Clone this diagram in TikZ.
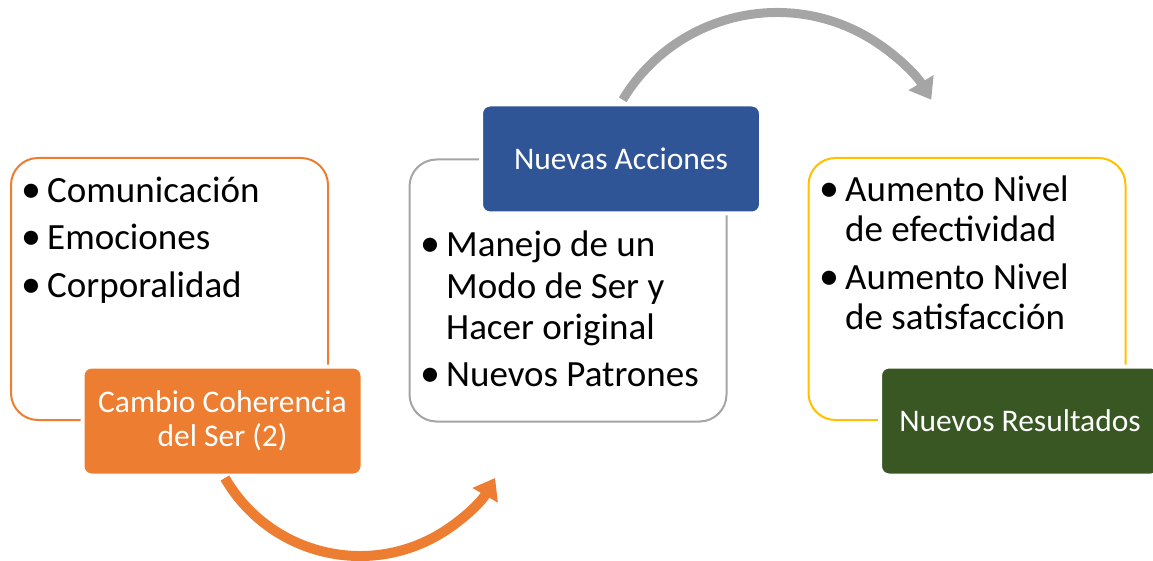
\documentclass[tikz,border=0pt]{standalone}
\usepackage{fontspec}
\setmainfont{Carlito}
\usetikzlibrary{arrows.meta}
\definecolor{corange}{HTML}{ED7D31}
\definecolor{cblue}{HTML}{2F5597}
\definecolor{cgreen}{HTML}{385723}
\definecolor{cgray}{HTML}{A5A5A5}
\definecolor{cyellow}{HTML}{FFC000}
\tikzset{
  outlinebox/.style={draw=#1, line width=2pt, fill=white, rounded corners=27pt, minimum width=317pt, minimum height=262pt, inner sep=0pt},
  labelbox/.style={fill=#1, draw=white, line width=4pt, rounded corners=9pt, minimum width=280pt, minimum height=109pt, inner sep=0pt, text=white, align=center, font=\fontsize{31.5}{34}\selectfont},
  bul/.style={anchor=base west, inner sep=0pt, font=\fontsize{40}{40}\selectfont},
  itemtext/.style={anchor=base west, inner sep=0pt, font=\fontsize{37}{40}\selectfont},
  bigarrow/.style={draw=#1, line width=10pt, -{Triangle[length=20pt,width=28pt]}}
}
\begin{document}
\begin{tikzpicture}[x=1pt,y=1pt]
\useasboundingbox (0,0) rectangle (1153,560);
\clip (0,0) rectangle (1153,560);
% box 1
\node[outlinebox=corange] (b1) at (169.5,271) {};
\node[labelbox=corange] (l1) at (222.5,139) {Cambio Coherencia\\del Ser (2)};
\node[bul] (b1d1) at (21,357) {•};
\node[itemtext] (b1t1) at (47,357) {Comunicación};
\node[bul] (b1d2) at (21,310) {•};
\node[itemtext] (b1t2) at (47,310) {Emociones};
\node[bul] (b1d3) at (21,262) {•};
\node[itemtext] (b1t3) at (47,262) {Corporalidad};
% box 2
\node[outlinebox=cgray] (b2) at (568,269.5) {};
\node[labelbox=cblue] (l2) at (621,401) {Nuevas Acciones};
\node[bul] (b2d1) at (420,303.3) {•};
\node[itemtext] (b2t1a) at (446,303.3) {Manejo de un};
\node[itemtext] (b2t1b) at (446,261.5) {Modo de Ser y};
\node[itemtext] (b2t1c) at (446,220) {Hacer original};
\node[bul] (b2d2) at (420,173.3) {•};
\node[itemtext] (b2t2) at (446,173.3) {Nuevos Patrones};
% box 3
\node[outlinebox=cyellow] (b3) at (967,271) {};
\node[labelbox=cgreen] (l3) at (1020,139) {Nuevos Resultados};
\node[bul] (b3d1) at (819,358.3) {•};
\node[itemtext] (b3t1a) at (845,358.3) {Aumento Nivel};
\node[itemtext] (b3t1b) at (845,318.3) {de efectividad};
\node[bul] (b3d2) at (819,270) {•};
\node[itemtext] (b3t2a) at (845,270) {Aumento Nivel};
\node[itemtext] (b3t2b) at (845,230) {de satisfacción};
% arrows
\coordinate (a1) at (224.9,82);
\coordinate (a2) at (622.7,460.2);
\draw[bigarrow=corange] (a1) arc[start angle=210, end angle=330, radius=156];
\draw[bigarrow=cgray, line width=9pt] (a2) arc[start angle=149, end angle=31, radius=180];
\end{tikzpicture}
\end{document}
